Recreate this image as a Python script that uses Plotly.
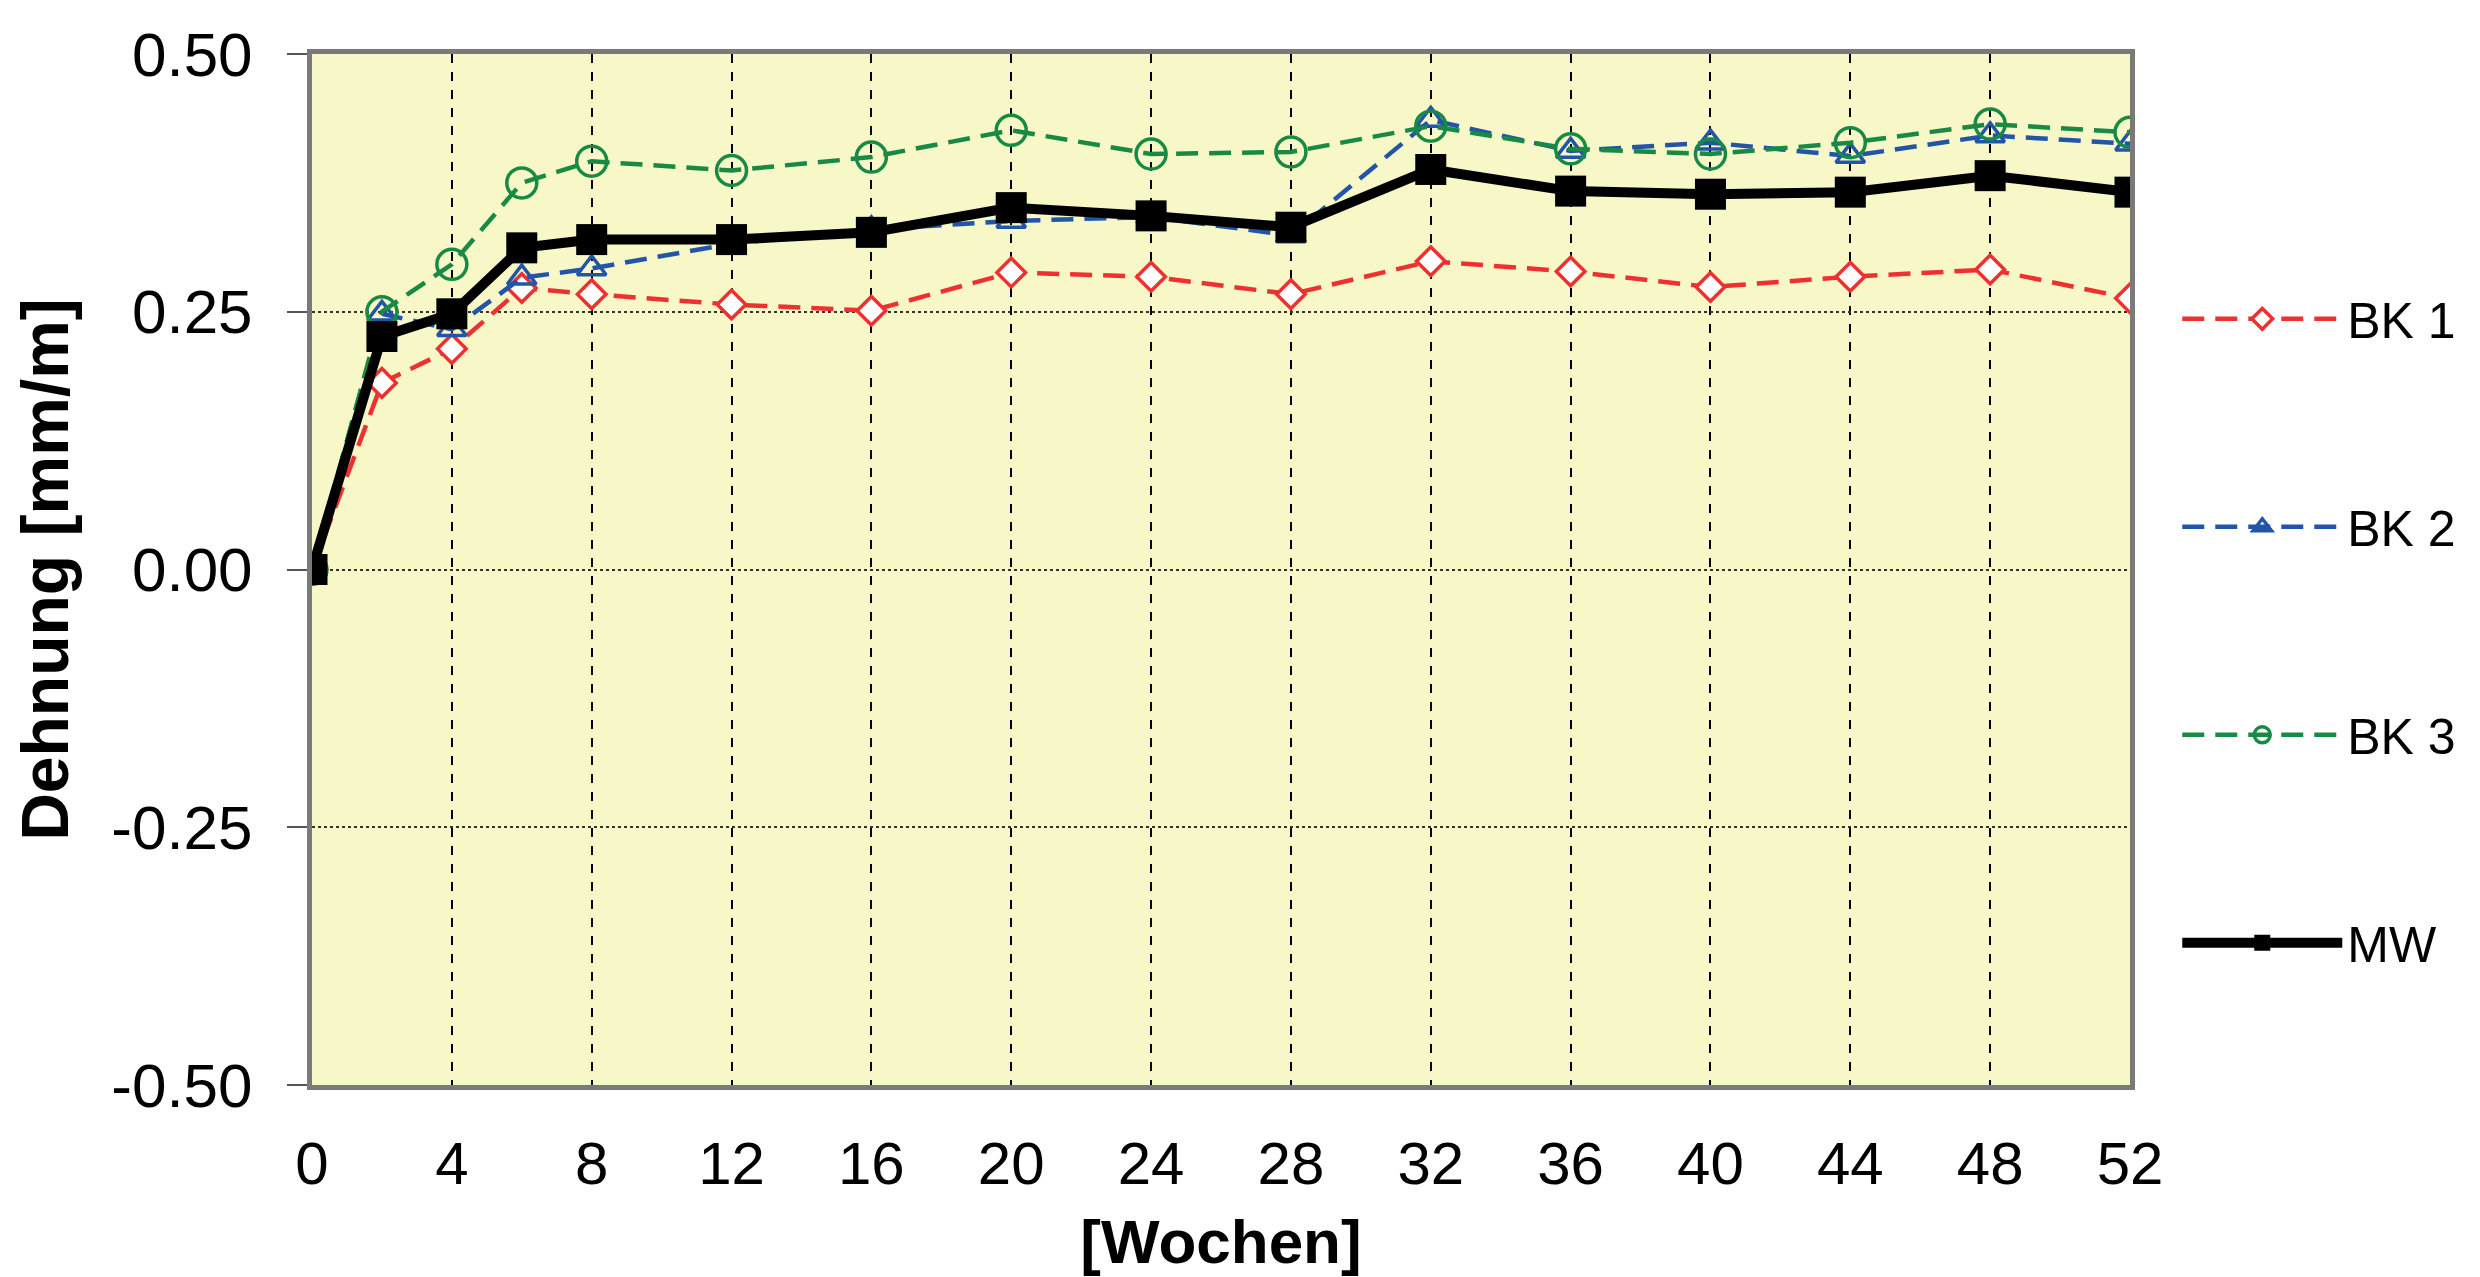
import plotly.graph_objects as go

weeks = [0, 2, 4, 6, 8, 12, 16, 20, 24, 28, 32, 36, 40, 44, 48, 52]
bk1 = [0.0, 0.181, 0.214, 0.273, 0.267, 0.257, 0.251, 0.288, 0.284, 0.267, 0.299, 0.289, 0.274, 0.284, 0.291, 0.263]
bk2 = [0.0, 0.248, 0.233, 0.283, 0.292, 0.316, 0.330, 0.338, 0.342, 0.324, 0.436, 0.406, 0.414, 0.401, 0.421, 0.413]
bk3 = [0.0, 0.250, 0.296, 0.375, 0.396, 0.387, 0.400, 0.426, 0.403, 0.405, 0.430, 0.408, 0.403, 0.414, 0.432, 0.424]
mw = [0.0, 0.226, 0.248, 0.312, 0.320, 0.320, 0.327, 0.351, 0.343, 0.332, 0.388, 0.367, 0.364, 0.366, 0.382, 0.366]

x_ticks = [0, 4, 8, 12, 16, 20, 24, 28, 32, 36, 40, 44, 48, 52]
y_ticks = [0.5, 0.25, 0.0, -0.25, -0.5]
y_ticklabels = ["0.50", "0.25", "0.00", "-0.25", "-0.50"]

RED = "#EE3030"
BLUE = "#2255A8"
GREEN = "#188A44"

font_family = "Liberation Sans, Arial, sans-serif"

fig = go.Figure()
fig.add_trace(go.Scatter(
    x=weeks, y=bk1, name="BK 1", mode="lines+markers", legendgroup="a",
    line=dict(color=RED, width=4.5, dash="22px,11px"),
    marker=dict(symbol="diamond", size=22, color="white", line=dict(color=RED, width=3.5)),
))
fig.add_trace(go.Scatter(
    x=weeks, y=bk2, name="BK 2", mode="lines+markers", legendgroup="b",
    line=dict(color=BLUE, width=4.5, dash="22px,11px"),
    marker=dict(symbol="triangle-up-open", size=25, color=BLUE, line=dict(color=BLUE, width=3.5)),
))
fig.add_trace(go.Scatter(
    x=weeks, y=bk3, name="BK 3", mode="lines+markers", legendgroup="c",
    line=dict(color=GREEN, width=4.5, dash="22px,11px"),
    marker=dict(symbol="circle-open", size=30, color=GREEN, line=dict(color=GREEN, width=3.5)),
))
fig.add_trace(go.Scatter(
    x=weeks, y=mw, name="MW", mode="lines+markers", legendgroup="d",
    line=dict(color="black", width=10),
    marker=dict(symbol="square", size=31, color="black"),
))

fig.update_layout(
    width=2472, height=1269,
    margin=dict(l=304, r=350, t=46, b=192, autoexpand=False),
    paper_bgcolor="white",
    plot_bgcolor="#F7F7C8",
    font=dict(family=font_family, color="black"),
    showlegend=True,
    legend=dict(
        x=1.026, xanchor="left", y=0.781, yanchor="top",
        font=dict(size=50, family=font_family),
        tracegroupgap=140, itemwidth=160,
        bgcolor="rgba(0,0,0,0)",
    ),
)

fig.update_xaxes(
    range=[0, 52], tickvals=x_ticks, ticktext=[str(v) for v in x_ticks],
    tickfont=dict(size=60), ticks="", ticklabelstandoff=22,
    showgrid=True, gridcolor="black", gridwidth=1.5, griddash="dash",
    showline=True, linecolor="#7A7A7A", linewidth=5, mirror=True,
    zeroline=False, automargin=False,
    title=dict(text="<b>[Wochen]</b>", font=dict(size=62), standoff=25),
)
fig.update_yaxes(
    range=[-0.5, 0.5], tickvals=y_ticks, ticktext=y_ticklabels,
    tickfont=dict(size=62), ticks="outside", ticklen=20, tickcolor="#555555", tickwidth=2,
    ticklabelstandoff=22,
    showgrid=True, gridcolor="#333333", gridwidth=2, griddash="dot",
    showline=True, linecolor="#7A7A7A", linewidth=5, mirror=True,
    zeroline=False, automargin=False,
    title=dict(text="<b>Dehnung [mm/m]</b>", font=dict(size=66), standoff=30),
)

fig.write_html("out.html")
